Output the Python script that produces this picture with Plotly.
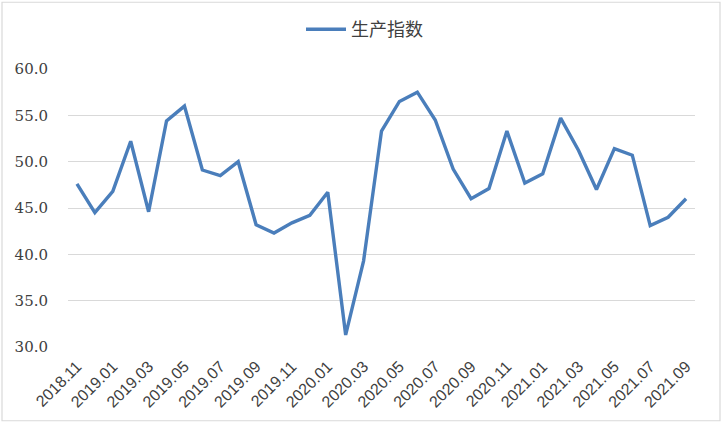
import plotly.graph_objects as go

months = ["2018.11","2018.12","2019.01","2019.02","2019.03","2019.04","2019.05","2019.06",
          "2019.07","2019.08","2019.09","2019.10","2019.11","2019.12","2020.01","2020.02",
          "2020.03","2020.04","2020.05","2020.06","2020.07","2020.08","2020.09","2020.10",
          "2020.11","2020.12","2021.01","2021.02","2021.03","2021.04","2021.05","2021.06",
          "2021.07","2021.08","2021.09"]
values = [47.6, 44.5, 46.8, 52.2, 44.6, 54.4, 56.0, 49.1,
          48.5, 50.0, 43.2, 42.3, 43.4, 44.2, 46.7, 31.3,
          39.3, 53.3, 56.5, 57.5, 54.5, 49.2, 46.0, 47.1,
          53.3, 47.7, 48.7, 54.7, 51.2, 47.0, 51.4, 50.7,
          43.1, 44.0, 46.0]
tick_labels = months[::2]
series_name = "生产指数"

fig = go.Figure()
fig.add_trace(go.Scatter(
    x=months, y=values, mode="lines", name=series_name,
    line=dict(color="#4a7ebb", width=3.4),
))

L, R, T, B = 68, 31, 68, 85
W, H = 726, 432
pw, ph = W - L - R, H - T - B

fig.update_layout(
    width=W, height=H,
    margin=dict(l=L, r=R, t=T, b=B),
    paper_bgcolor="white", plot_bgcolor="white",
    showlegend=True,
    legend=dict(orientation="h", x=0.5 - 17 / pw, xanchor="center", y=1 + (68 - 11) / ph, yanchor="top",
                font=dict(family="Noto Sans CJK SC", size=18, color="#404040"),
                itemwidth=40),
    xaxis=dict(type="category", range=[-0.5, len(months) - 0.5],
               tickmode="array", tickvals=tick_labels, ticktext=tick_labels,
               tickangle=-45, showgrid=False, showline=False, ticks="",
               ticklabelstandoff=6,
               tickfont=dict(family="Liberation Sans", size=16, color="#404040")),
    yaxis=dict(range=[30, 60], dtick=5, tickformat=".1f",
               showgrid=True, gridcolor="#d9d9d9", gridwidth=1.2,
               zeroline=False, showline=False, ticks="", ticklen=0,
               ticklabelstandoff=19,
               tickfont=dict(family="DejaVu Serif", size=15, color="#404040")),
    shapes=[dict(type="rect", xref="paper", yref="paper",
                 x0=(2 - L) / pw, x1=(720 - L) / pw,
                 y0=(H - B - 421) / ph, y1=1 + (T - 1) / ph,
                 line=dict(color="#d9d9d9", width=1.2), fillcolor="rgba(0,0,0,0)")],
)

fig.write_html("out.html", config={"displayModeBar": False},
               post_script="document.body.style.margin='0';document.body.style.padding='0';")
